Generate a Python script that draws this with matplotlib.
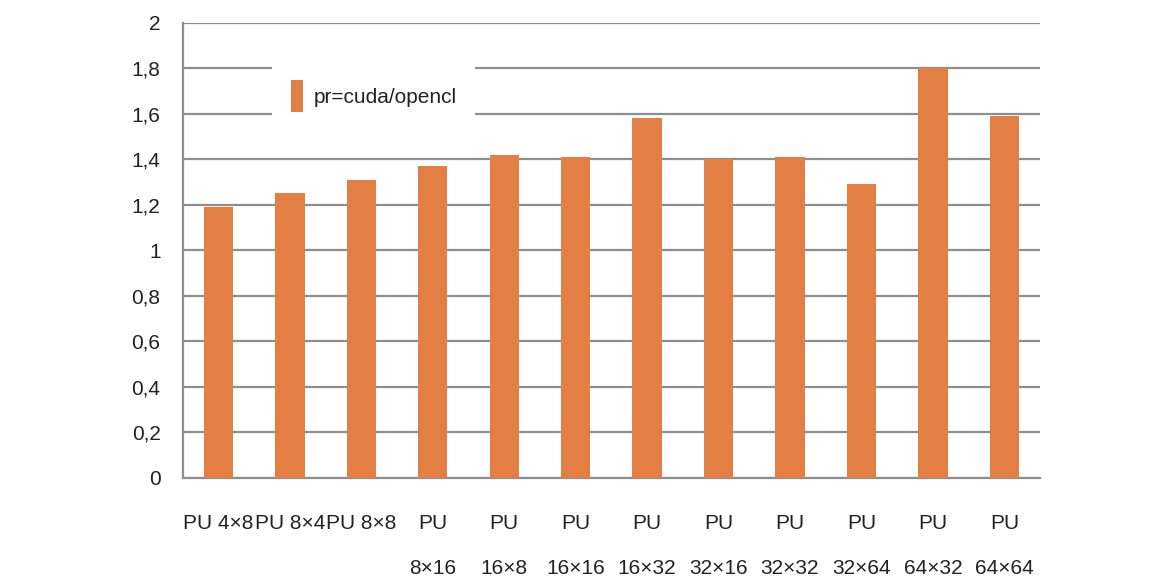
import matplotlib.pyplot as plt
import numpy as np

# Data
categories = ['PU 4×8', 'PU 8×4', 'PU 8×8', 'PU\n8×16', 'PU\n16×8', 'PU\n16×16',
              'PU\n16×32', 'PU\n32×16', 'PU\n32×32', 'PU\n32×64', 'PU\n64×32', 'PU\n64×64']
ratio = [1.19, 1.25, 1.31, 1.37, 1.42, 1.41, 1.58, 1.40, 1.41, 1.29, 1.80, 1.59]
y_ticks = [0, 0.2, 0.4, 0.6, 0.8, 1, 1.2, 1.4, 1.6, 1.8, 2]
y_tick_labels = ['0', '0,2', '0,4', '0,6', '0,8', '1', '1,2', '1,4', '1,6', '1,8', '2']

plt.rcParams['font.family'] = ['Liberation Sans', 'DejaVu Sans']

bar_color = '#E37E44'
grid_color = '#8E8E8E'

fig = plt.figure(figsize=(11.64, 5.8), dpi=100)
ax = fig.add_axes([0.157, 0.176, 0.7365, 0.785])

x = np.arange(len(categories))
ax.bar(x, ratio, width=0.41, color=bar_color, zorder=3, label='pr=cuda/opencl')

# Axes and grid
ax.set_xlim(-0.5, len(categories) - 0.5)
ax.set_ylim(0, 2)
ax.set_yticks(y_ticks)
ax.set_yticklabels(y_tick_labels)
ax.set_xticks(x)
ax.set_xticklabels(categories, linespacing=2.7, va='top')
ax.grid(axis='y', color=grid_color, linewidth=1.6, zorder=0)
ax.tick_params(axis='y', length=0, pad=16, labelsize=15, labelcolor='#222222')
ax.tick_params(axis='x', length=0, pad=26, labelsize=15, labelcolor='#222222')

for side in ['top', 'right']:
    ax.spines[side].set_visible(False)
for side in ['left', 'bottom']:
    ax.spines[side].set_color(grid_color)
    ax.spines[side].set_linewidth(1.6)

# Legend (white box hiding grid lines)
leg = ax.legend(loc='upper left', bbox_to_anchor=(0.104, 0.915), frameon=True,
                fontsize=15, handlelength=0.6, handleheight=2.0, handletextpad=0.5,
                borderpad=0.9, borderaxespad=0)
leg.get_frame().set_facecolor('white')
leg.get_frame().set_edgecolor('none')
leg.get_frame().set_alpha(1)
leg.set_zorder(5)
for t in leg.get_texts():
    t.set_color('#222222')

fig.savefig('out.png', dpi=100)
